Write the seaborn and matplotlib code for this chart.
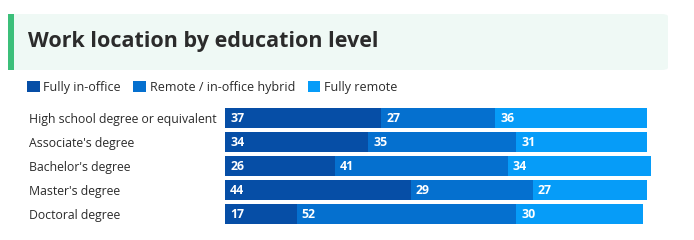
import seaborn as sns
import pandas as pd
import matplotlib.pyplot as plt
from matplotlib.patches import FancyBboxPatch, Rectangle, Patch

categories = ["High school degree or equivalent", "Associate's degree", "Bachelor's degree",
              "Master's degree", "Doctoral degree"]
in_office = [37, 34, 26, 44, 17]
hybrid = [27, 35, 41, 29, 52]
remote = [36, 31, 34, 27, 30]
series_names = ["Fully in-office", "Remote / in-office hybrid", "Fully remote"]
colors = ["#064ea6", "#0570cf", "#069cf8"]

df = pd.DataFrame({"Level": categories, "in_office": in_office, "hybrid": hybrid, "remote": remote})
df["c1"] = df["in_office"]
df["c2"] = df["in_office"] + df["hybrid"]
df["c3"] = df["c2"] + df["remote"]

W, H = 694, 240
fig = plt.figure(figsize=(W / 100, H / 100), dpi=100)
sns.set_style("white")
plt.rcParams["font.family"] = ["Open Sans", "DejaVu Sans"]

# title box
fig.patches.append(FancyBboxPatch((8 / W, 170 / H), 660 / W, 56 / H, boxstyle="round,pad=0,rounding_size=0.01",
                                  transform=fig.transFigure, facecolor="#eff9f5", edgecolor="none"))
fig.patches.append(Rectangle((8 / W, 170 / H), 6 / W, 56 / H, transform=fig.transFigure,
                             facecolor="#3cbf7a", edgecolor="none"))
fig.text(28 / W, 198 / H, "Work location by education level", fontsize=15.5, fontweight="bold",
         color="#2b2b2b", va="center", ha="left")

ax = fig.add_axes([225 / W, 14 / H, 426 / W, 120 / H])
for col, c in zip(["c3", "c2", "c1"], colors[::-1]):
    sns.barplot(data=df, x=col, y="Level", color=c, width=0.83, ax=ax, saturation=1, linewidth=0)

ax.set_xlim(0, 101)
ax.set_ylim(4.5, -0.5)
for s in ax.spines.values():
    s.set_visible(False)
ax.set_xticks([])
ax.set_xlabel("")
ax.set_ylabel("")
ax.tick_params(axis="y", length=0, pad=141, labelsize=8.8, labelcolor="#2b2b2b")
for lab in ax.get_yticklabels():
    lab.set_horizontalalignment("left")

for i in range(len(categories)):
    starts = [0, df["c1"][i], df["c2"][i]]
    vals = [in_office[i], hybrid[i], remote[i]]
    for st, v in zip(starts, vals):
        ax.text(st + 1.2, i + 0.03, str(v), color="white", fontsize=8.8, fontweight="bold",
                va="center", ha="left")

handles = [Patch(facecolor=c, edgecolor="none") for c in colors]
fig.legend(handles, series_names, loc="center left", bbox_to_anchor=(27 / W, 153 / H), ncol=3,
           frameon=False, fontsize=9, handlelength=1.0, handleheight=1.0, handletextpad=0.3,
           columnspacing=1.0, labelcolor="#2b2b2b", borderaxespad=0, borderpad=0)

fig.savefig("out.png", dpi=100)
